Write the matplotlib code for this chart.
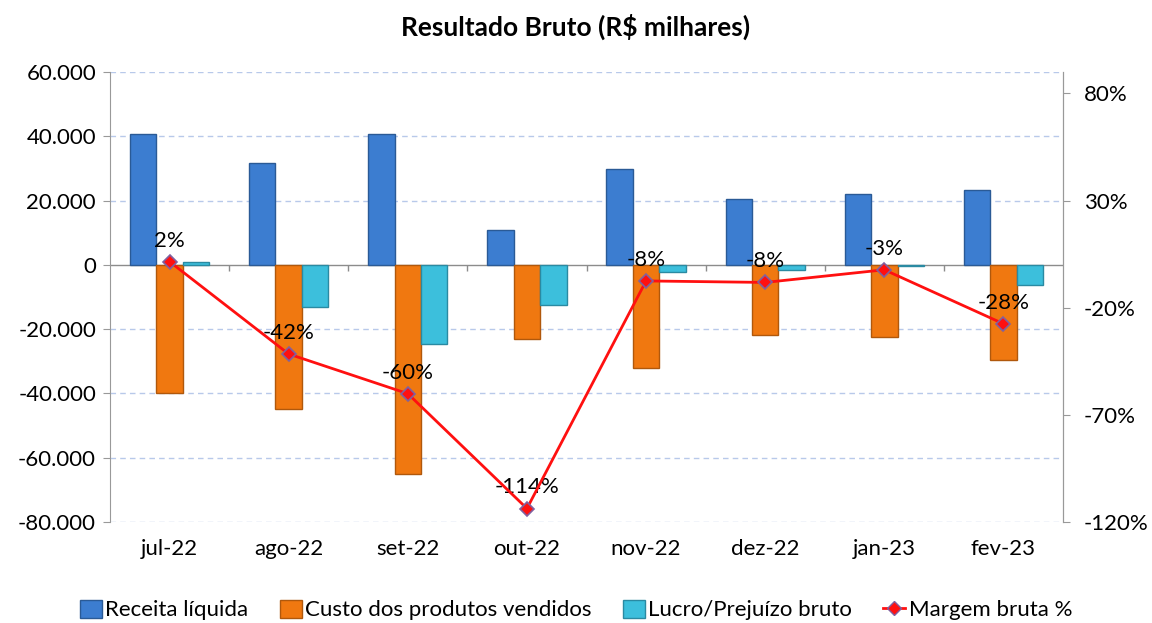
import matplotlib

matplotlib.use("Agg")
import matplotlib.pyplot as plt
import numpy as np
from matplotlib.lines import Line2D
from matplotlib.patches import Patch
from matplotlib.ticker import FuncFormatter

plt.rcParams["font.family"] = ["Lato", "DejaVu Sans"]

months = ["jul-22", "ago-22", "set-22", "out-22", "nov-22", "dez-22", "jan-23", "fev-23"]
receita = [40800, 31800, 40800, 10900, 29900, 20400, 22200, 23300]
custo = [-39900, -44800, -65000, -23100, -32000, -21800, -22500, -29600]
lucro = [800, -13200, -24600, -12500, -2200, -1600, -500, -6400]
margem = [1.5, -41.6, -60.1, -113.7, -7.5, -8.2, -2.3, -27.5]
margem_labels = ["2%", "-42%", "-60%", "-114%", "-8%", "-8%", "-3%", "-28%"]

BLUE, BLUE_EDGE = "#3c7dd0", "#2a5a96"
ORANGE, ORANGE_EDGE = "#f07810", "#b0580c"
CYAN, CYAN_EDGE = "#3cbfdc", "#2a8aa2"
GRID = "#b8c9ea"

fig = plt.figure(figsize=(11.52, 6.23), dpi=100)
ax = fig.add_axes([110 / 1152, 1 - 522 / 623, (1063 - 110) / 1152, 450 / 623])

x = np.arange(len(months))
w = 0.222
ax.bar(x - w, receita, w, color=BLUE, edgecolor=BLUE_EDGE, linewidth=1, zorder=3)
ax.bar(x, custo, w, color=ORANGE, edgecolor=ORANGE_EDGE, linewidth=1, zorder=3)
ax.bar(x + w, lucro, w, color=CYAN, edgecolor=CYAN_EDGE, linewidth=1, zorder=3)

ax.set_ylim(-80000, 60000)
ax.set_xlim(-0.5, len(months) - 0.5)
ax.set_yticks(np.arange(-80000, 60001, 20000))
ax.yaxis.set_major_formatter(FuncFormatter(lambda v, _: f"{v:,.0f}".replace(",", ".")))
ax.tick_params(axis="y", labelsize=16, length=5, color="#999999", pad=5)
for v in np.arange(-80000, 60001, 20000):
    if v != 0:
        ax.axhline(v, color=GRID, lw=1, ls=(0, (4, 3)), zorder=1)
ax.axhline(0, color="#8c8c8c", lw=1, zorder=2)
# category separators on the zero line
ax.vlines(x[:-1] + 0.5, -1800, 0, color="#8c8c8c", lw=1, zorder=2)

ax.set_xticks(x)
ax.set_xticklabels(months, fontsize=16)
ax.tick_params(axis="x", length=0, pad=12)

for side in ["top", "bottom"]:
    ax.spines[side].set_visible(False)
ax.spines["left"].set_color("#999999")
ax.spines["right"].set_color("#999999")

ax2 = ax.twinx()
ax2.plot(x, margem, color="#ff1010", lw=2, marker="D", markersize=7,
         markerfacecolor="#ff1010", markeredgecolor="#8060a0", markeredgewidth=1.2, zorder=5)
for xi, m, lab in zip(x, margem, margem_labels):
    ax2.annotate(lab, (xi, m), xytext=(0, 8), textcoords="offset points",
                 ha="center", va="bottom", fontsize=16)
ax2.set_ylim(-120, 90)
ax2.set_yticks([-120, -70, -20, 30, 80])
ax2.yaxis.set_major_formatter(FuncFormatter(lambda v, _: f"{v:.0f}%"))
ax2.tick_params(axis="y", labelsize=16, length=5, color="#999999", pad=10)
for side in ["top", "bottom", "left"]:
    ax2.spines[side].set_visible(False)
ax2.spines["right"].set_color("#999999")

fig.text(0.5, 1 - 27 / 623, "Resultado Bruto (R$ milhares)", ha="center", va="center",
         fontsize=19, fontweight="bold")

handles = [
    Patch(facecolor=BLUE, edgecolor=BLUE_EDGE),
    Patch(facecolor=ORANGE, edgecolor=ORANGE_EDGE),
    Patch(facecolor=CYAN, edgecolor=CYAN_EDGE),
    Line2D([], [], color="#ff1010", lw=2, marker="D", markersize=7,
           markerfacecolor="#ff1010", markeredgecolor="#8060a0"),
]
labels = ["Receita líquida", "Custo dos produtos vendidos", "Lucro/Prejuízo bruto", "Margem bruta %"]
fig.legend(handles, labels, loc="center", bbox_to_anchor=(0.5, 1 - 610 / 623), ncol=4,
           frameon=False, fontsize=16, handlelength=1.0, handleheight=0.9,
           handletextpad=0.15, columnspacing=1.4)

fig.savefig("out.png", dpi=100)
